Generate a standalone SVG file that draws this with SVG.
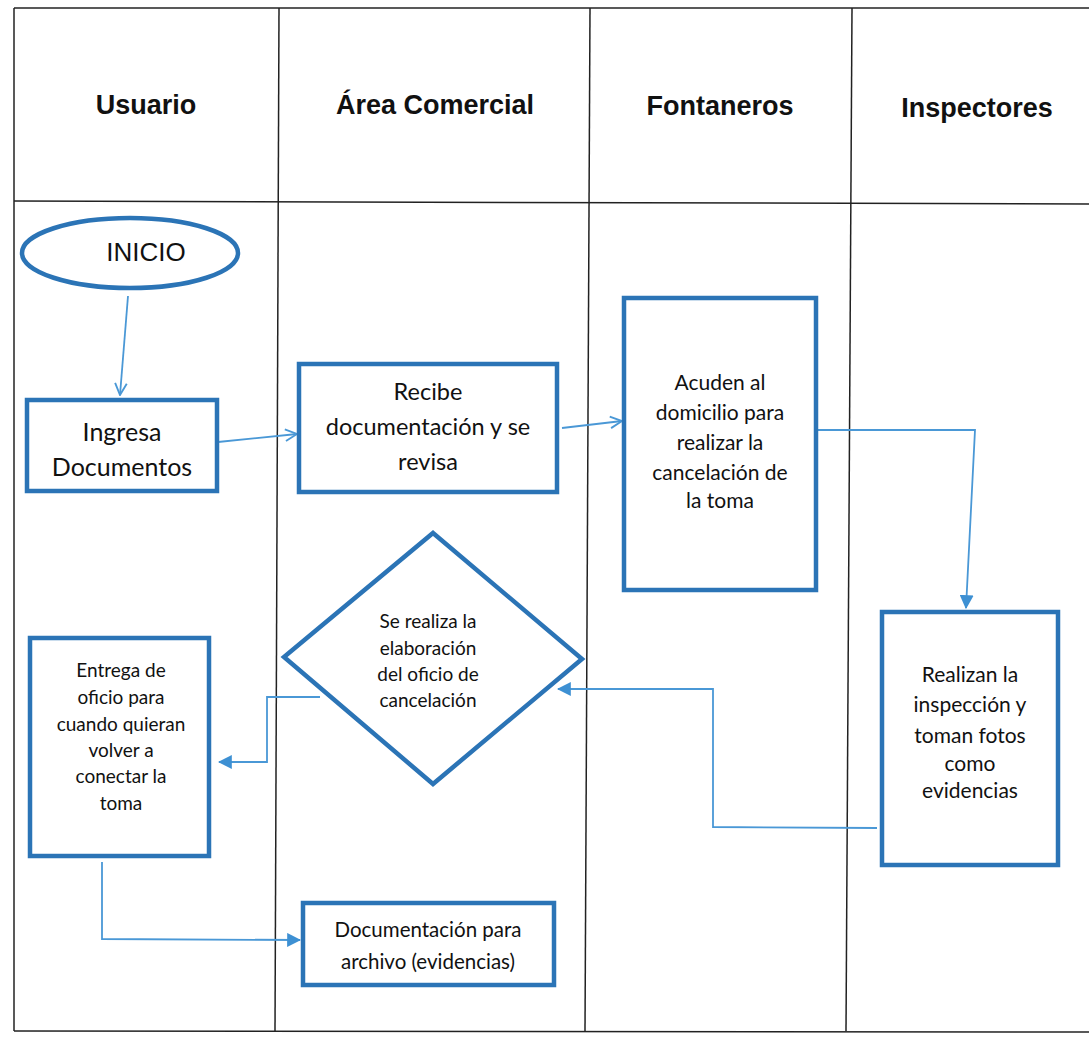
<svg xmlns="http://www.w3.org/2000/svg" width="1089" height="1038" viewBox="0 0 1089 1038">
<defs>
<style>
.grid{stroke:#222;stroke-width:1.5;fill:none}
.hdr{font-family:"Liberation Sans",Arial,sans-serif;font-weight:bold;font-size:27px;fill:#111;text-anchor:middle}
.box{fill:#fff;stroke:#2b74b6;stroke-width:4.5}
.t{font-family:Lato,"Open Sans",sans-serif;fill:#111;text-anchor:middle}
.con{fill:none;stroke:#4a98d6;stroke-width:1.8}
</style>
<marker id="open" viewBox="0 0 12 12" refX="11" refY="6" markerWidth="14" markerHeight="14" markerUnits="userSpaceOnUse" orient="auto">
<path d="M1,1 L11,6 L1,11" fill="none" stroke="#4a98d6" stroke-width="1.6"/>
</marker>
<marker id="fill" viewBox="0 0 12 12" refX="11" refY="6" markerWidth="14" markerHeight="14" markerUnits="userSpaceOnUse" orient="auto">
<path d="M0,0 L12,6 L0,12 Z" fill="#3d90d3"/>
</marker>
</defs>
<rect width="1089" height="1038" fill="#fff"/>
<g id="grid">
<line class="grid" x1="14" y1="8" x2="1089" y2="8"/>
<line class="grid" x1="14" y1="8" x2="14" y2="1031"/>
<line class="grid" x1="14" y1="201" x2="1089" y2="204"/>
<line class="grid" x1="14" y1="1031" x2="1089" y2="1032"/>
<line class="grid" x1="279" y1="8" x2="275" y2="1031"/>
<line class="grid" x1="590" y1="8" x2="585" y2="1031"/>
<line class="grid" x1="852" y1="8" x2="846" y2="1031"/>
</g>
<g id="headers">
<text class="hdr" x="146" y="114">Usuario</text>
<text class="hdr" x="435" y="114">Área Comercial</text>
<text class="hdr" x="720" y="115">Fontaneros</text>
<text class="hdr" x="977" y="117">Inspectores</text>
</g>
<g id="connectors">
<line class="con" x1="128" y1="296" x2="120" y2="395" marker-end="url(#open)"/>
<line class="con" x1="218" y1="442" x2="297" y2="434" marker-end="url(#open)"/>
<line class="con" x1="562" y1="428" x2="622" y2="421" marker-end="url(#open)"/>
<polyline class="con" points="817,430 975,430 966,608" marker-end="url(#fill)"/>
<polyline class="con" points="877,828 713,827 713,689 558,689" marker-end="url(#fill)"/>
<polyline class="con" points="320,697 267,697 267,762 219,762" marker-end="url(#fill)"/>
<polyline class="con" points="102,862 102,939 300,940" marker-end="url(#fill)"/>
</g>
<g id="inicio">
<ellipse class="box" cx="130" cy="253" rx="108" ry="35"/>
<text x="146" y="261" font-family="Liberation Sans,Arial,sans-serif" font-size="26" fill="#111" text-anchor="middle">INICIO</text>
</g>
<g id="ingresa">
<rect class="box" x="27" y="400" width="190" height="91"/>
<text class="t" font-size="25" x="122" y="441">Ingresa</text>
<text class="t" font-size="25" x="122" y="476">Documentos</text>
</g>
<g id="recibe">
<rect class="box" x="299" y="364" width="258" height="128"/>
<text class="t" font-size="23.5" x="428" y="400">Recibe</text>
<text class="t" font-size="23.5" x="428" y="435">documentación y se</text>
<text class="t" font-size="23.5" x="428" y="470">revisa</text>
</g>
<g id="acuden">
<rect class="box" x="624" y="298" width="192" height="292"/>
<text class="t" font-size="21" x="720" y="390">Acuden al</text>
<text class="t" font-size="21" x="720" y="420">domicilio para</text>
<text class="t" font-size="21" x="720" y="450">realizar la</text>
<text class="t" font-size="21" x="720" y="480">cancelación de</text>
<text class="t" font-size="21" x="720" y="508">la toma</text>
</g>
<g id="realizan">
<rect class="box" x="882" y="612" width="176" height="253"/>
<text class="t" font-size="21" x="970" y="682">Realizan la</text>
<text class="t" font-size="21" x="970" y="712">inspección y</text>
<text class="t" font-size="21" x="970" y="743">toman fotos</text>
<text class="t" font-size="21" x="970" y="771">como</text>
<text class="t" font-size="21" x="970" y="798">evidencias</text>
</g>
<g id="elaboracion">
<polygon class="box" points="433,533 582,659 433,784 284,657"/>
<text class="t" font-size="19" x="428" y="628">Se realiza la</text>
<text class="t" font-size="19" x="428" y="655">elaboración</text>
<text class="t" font-size="19" x="428" y="681">del oficio de</text>
<text class="t" font-size="19" x="428" y="707">cancelación</text>
</g>
<g id="entrega">
<rect class="box" x="30" y="638" width="179" height="218"/>
<text class="t" font-size="19" x="121" y="677">Entrega de</text>
<text class="t" font-size="19" x="121" y="704">oficio para</text>
<text class="t" font-size="19" x="121" y="731">cuando quieran</text>
<text class="t" font-size="19" x="121" y="757">volver a</text>
<text class="t" font-size="19" x="121" y="783">conectar la</text>
<text class="t" font-size="19" x="121" y="810">toma</text>
</g>
<g id="documentacion">
<rect class="box" x="303" y="903" width="251" height="82"/>
<text class="t" font-size="20.5" x="428" y="937">Documentación para</text>
<text class="t" font-size="20.5" x="428" y="969">archivo (evidencias)</text>
</g>
</svg>
